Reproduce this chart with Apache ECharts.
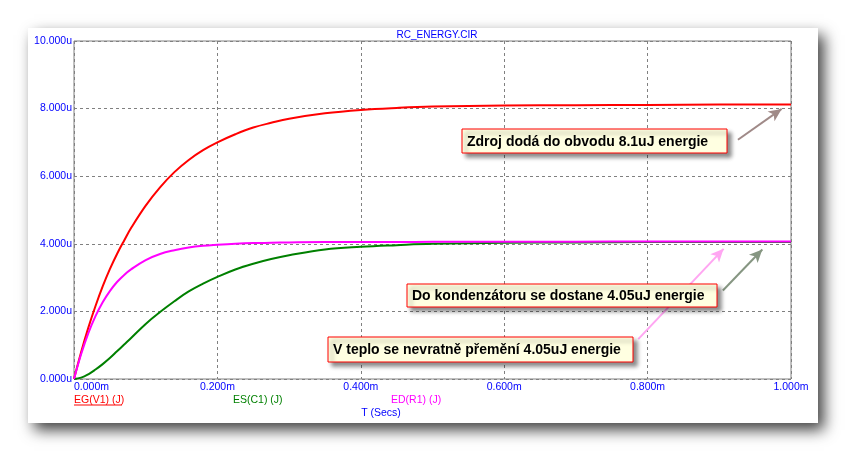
<!DOCTYPE html>
<html>
<head>
<meta charset="utf-8">
<script src="https://cdn.jsdelivr.net/npm/echarts@6/dist/echarts.min.js"></script>
<style>
html,body{margin:0;padding:0;background:#ffffff;}
#c{width:847px;height:453px;}
</style>
</head>
<body>
<div id="c"></div>
<script>
// ---- data (time in ms, energy in uJ) ----
const times    = [0, 0.01, 0.02, 0.03, 0.04, 0.05, 0.06, 0.07, 0.08, 0.10, 0.12, 0.14, 0.16, 0.18, 0.20, 0.225, 0.25, 0.275, 0.30, 0.35, 0.40, 0.45, 0.50, 0.60, 0.70, 0.80, 0.90, 1.00];
const egValues = [0, 0.80, 1.52, 2.16, 2.74, 3.25, 3.70, 4.10, 4.48, 5.13, 5.67, 6.12, 6.48, 6.77, 7.00, 7.24, 7.44, 7.58, 7.70, 7.86, 7.96, 8.02, 8.06, 8.09, 8.10, 8.11, 8.12, 8.12];
const esValues = [0, 0.04, 0.14, 0.28, 0.44, 0.62, 0.82, 1.02, 1.22, 1.63, 1.98, 2.30, 2.59, 2.82, 3.02, 3.24, 3.41, 3.55, 3.66, 3.83, 3.91, 3.96, 4.00, 4.03, 4.04, 4.05, 4.05, 4.05];
const edValues = [0, 0.74, 1.36, 1.86, 2.27, 2.60, 2.87, 3.08, 3.25, 3.52, 3.70, 3.81, 3.89, 3.94, 3.97, 4.00, 4.02, 4.03, 4.04, 4.05, 4.05, 4.05, 4.06, 4.06, 4.06, 4.07, 4.07, 4.07];
const xTicks = [0, 0.2, 0.4, 0.6, 0.8, 1.0];
const yTicks = [0, 2, 4, 6, 8, 10];
const seriesNames = ['EG(V1) (J)', 'ES(C1) (J)', 'ED(R1) (J)'];
const seriesColors = ['#ff0000', '#008000', '#ff00ff'];
const titleText = 'RC_ENERGY.CIR';
const xAxisTitle = 'T (Secs)';
const notes = [
  'Zdroj dodá do obvodu 8.1uJ energie',
  'Do kondenzátoru se dostane 4.05uJ energie',
  'V teplo se nevratně přemění 4.05uJ energie'
];
// arrows: [tail, tip] in data coordinates
const arrowGray  = [[0.926, 7.08], [0.987, 7.99]];
const arrowGreen = [[0.905, 2.62], [0.960, 3.83]];
const arrowPink  = [[0.787, 1.18], [0.906, 3.85]];

const pairs = (ys) => times.map((t, i) => [t, ys[i]]);
const FONT = '"Liberation Sans", Arial, sans-serif';
const BLUE = '#0000ff';

const chart = echarts.init(document.getElementById('c'), null, {renderer: 'canvas'});

function noteBox(x, y, w, h, text) {
  return [
    {type: 'rect', z: 100, shape: {x: x, y: y, width: w, height: h},
     style: {fill: '#ffffe1', stroke: '#ff0000', lineWidth: 1,
             shadowBlur: 4, shadowOffsetX: 4, shadowOffsetY: 4, shadowColor: 'rgba(0,0,0,0.45)'}},
    {type: 'text', z: 101, style: {text: text, x: x + 5, y: y + h / 2 + 1, verticalAlign: 'middle',
             font: 'bold 14px ' + FONT, fill: '#000000'}}
  ];
}

function arrowLine(pts, color) {
  return [{coord: pts[0], symbol: 'none'}, {coord: pts[1], symbol: 'arrow', lineStyle: {color: color, width: 2, type: 'solid'}}];
}

function lineSeries(i, ys, arrow, arrowColor) {
  return {name: seriesNames[i], type: 'line', data: pairs(ys), showSymbol: false, smooth: 0.4,
     lineStyle: {color: seriesColors[i], width: 2}, itemStyle: {color: seriesColors[i]}, z: 3 + i,
     markLine: {silent: true, symbolSize: [9, 13], animation: false, label: {show: false},
                lineStyle: {color: arrowColor, width: 2, type: 'solid'},
                data: [arrowLine(arrow, arrowColor)]}};
}

const option = {
  animation: false,
  backgroundColor: '#ffffff',
  title: {
    text: titleText, left: 432, top: 25, textAlign: 'center',
    textStyle: {color: BLUE, fontSize: 10, fontWeight: 'normal', fontFamily: FONT}
  },
  grid: {left: 74, right: 56, top: 41, bottom: 74, show: true, borderColor: '#808080', borderWidth: 1, backgroundColor: 'transparent'},
  xAxis: {
    type: 'value', min: 0, max: 1, interval: 0.2,
    axisLine: {show: false}, axisTick: {show: false},
    splitLine: {show: true, lineStyle: {color: '#808080', type: [3, 3], width: 1}},
    axisLabel: {color: BLUE, fontSize: 10.5, fontFamily: FONT, margin: 3, alignMinLabel: 'left',
                formatter: v => v.toFixed(3) + 'm', customValues: xTicks}
  },
  yAxis: {
    type: 'value', min: 0, max: 10, interval: 2,
    axisLine: {show: false}, axisTick: {show: false},
    splitLine: {show: true, lineStyle: {color: '#808080', type: [3, 3], width: 1}},
    axisLabel: {color: BLUE, fontSize: 10.5, fontFamily: FONT, margin: 2,
                formatter: v => v.toFixed(3) + 'u', customValues: yTicks}
  },
  series: [
    lineSeries(0, egValues, arrowGray, '#a08a88'),
    lineSeries(1, esValues, arrowGreen, '#869682'),
    lineSeries(2, edValues, arrowPink, '#ffa6f2')
  ],
  graphic: [
    {type: 'rect', z: -10, silent: true, shape: {x: 28, y: 28, width: 790, height: 395},
     style: {fill: '#ffffff', shadowBlur: 14, shadowOffsetX: 6, shadowOffsetY: 7, shadowColor: 'rgba(0,0,0,0.75)'}},
    {type: 'text', style: {text: seriesNames[0], x: 74, y: 400, verticalAlign: 'middle', font: '10.5px ' + FONT, fill: seriesColors[0]}},
    {type: 'line', shape: {x1: 74, y1: 405, x2: 122, y2: 405}, style: {stroke: seriesColors[0], lineWidth: 1}},
    {type: 'text', style: {text: seriesNames[1], x: 233, y: 400, verticalAlign: 'middle', font: '10.5px ' + FONT, fill: seriesColors[1]}},
    {type: 'text', style: {text: seriesNames[2], x: 391, y: 400, verticalAlign: 'middle', font: '10.5px ' + FONT, fill: seriesColors[2]}},
    {type: 'text', style: {text: xAxisTitle, x: 381, y: 413, align: 'center', verticalAlign: 'middle', font: '10.5px ' + FONT, fill: BLUE}},
    ...noteBox(462, 129, 265, 24, notes[0]),
    ...noteBox(407, 284, 310, 23, notes[1]),
    ...noteBox(328, 337, 305, 25, notes[2])
  ]
};
chart.setOption(option);
</script>
</body>
</html>
